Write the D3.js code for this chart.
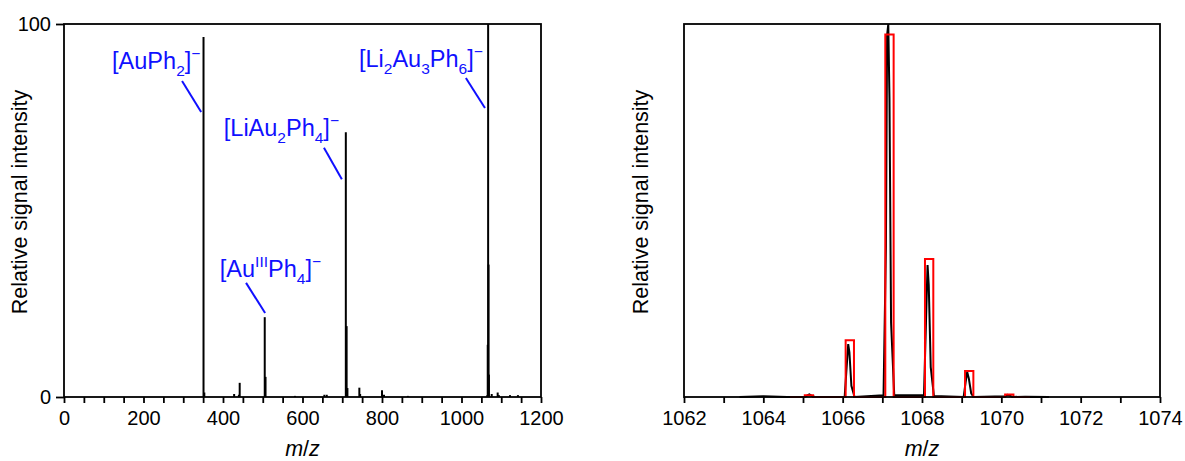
<!DOCTYPE html>
<html lang="en">
<head>
    <meta charset="UTF-8">
    <script src="https://cdn.jsdelivr.net/npm/d3@7"></script>
    <title>Mass spectrum and isotope pattern</title>
    <style>
        html, body {
            margin: 0px;
            padding: 0px;
            background-color: #ffffff;
            font-family: "Liberation Sans", Arial, sans-serif;
        }
        svg text { font-family: "Liberation Sans", Arial, sans-serif; }
    </style>
</head>
<body>
    <div id="chart"></div>
    <script>

        // overview spectrum, stick peaks (m/z, relative intensity)
        let stick_mz  = [351, 353, 428, 440, 442, 505, 507, 581, 655, 661, 709, 711, 713, 743, 745, 800, 805, 865, 1065, 1066, 1067, 1068, 1069, 1076, 1091, 1094, 1122, 1142];
        let stick_int = [96.5, 1.2, 0.8, 0.6, 3.8, 21.4, 5.4, 0.3, 0.6, 0.6, 71, 19, 2.4, 2.5, 0.8, 1.8, 0.6, 0.3, 0.5, 14, 100, 35.5, 6, 0.8, 1.2, 0.5, 0.5, 0.5];

        // labels: formula parts, text start (m/z, intensity), leader line
        let label_parts = [
            [['[AuPh', ''], ['2', 'sub'], [']', ''], ['\u2212', 'sup']],
            [['[LiAu', ''], ['2', 'sub'], ['Ph', ''], ['4', 'sub'], [']', ''], ['\u2212', 'sup']],
            [['[Au', ''], ['III', 'sup'], ['Ph', ''], ['4', 'sub'], [']', ''], ['\u2212', 'sup']],
            [['[Li', ''], ['2', 'sub'], ['Au', ''], ['3', 'sub'], ['Ph', ''], ['6', 'sub'], [']', ''], ['\u2212', 'sup']]
        ];
        let label_pos = [[121, 87.9], [402, 70.0], [392, 32.2], [742, 88.5]];
        let leader_from = [[297, 84.7], [654, 66.8], [458, 30.6], [1011, 85.5]];
        let leader_to = [[345, 76.4], [699, 58.4], [506, 22.5], [1059, 77.5]];

        // zoomed region: measured profile
        let profile_mz  = [1063.4, 1064.0, 1064.6, 1065.05, 1065.12, 1065.16, 1065.22, 1065.3, 1066.05, 1066.1, 1066.14, 1066.17, 1066.22, 1066.3,
                           1067.03, 1067.09, 1067.12, 1067.15, 1067.18, 1067.22, 1067.3, 1068.05, 1068.1, 1068.14, 1068.17, 1068.22, 1068.3,
                           1069.05, 1069.1, 1069.14, 1069.18, 1069.24, 1069.3, 1070.1, 1070.15, 1070.2, 1070.28, 1070.6, 1071.2];
        let profile_int = [0, 0.2, 0, 0, 0.5, 0.7, 0.3, 0, 0, 8, 14.2, 12, 3, 0,
                           0.5, 40, 97, 100, 80, 20, 0.5, 0.5, 20, 35.4, 30, 8, 0.3,
                           0, 4, 6.7, 5, 1, 0, 0.2, 0.6, 0.5, 0, 0.1, 0];

        // simulated isotope pattern (red boxes)
        let iso_mz  = [1065.15, 1066.18, 1067.18, 1068.18, 1069.19, 1070.2];
        let iso_int = [0.5, 15.2, 97.2, 37, 7, 0.7];
        let iso_width = 0.21;
        let iso_range = [1064.67, 1070.72];

        let width = 1185, height = 461;
        let svg = d3.select('#chart').append('svg').attr('width', width).attr('height', height);

        let plot_top = 24, plot_bottom = 397;
        let blue = '#1010ff';

        // ---------- left panel ----------
        let x1 = d3.scaleLinear().domain([0, 1200]).range([64, 541]);
        let y1 = d3.scaleLinear().domain([0, 100]).range([plot_bottom, plot_top]);

        let left_g = svg.append('g');

        left_g.selectAll('line.peak')
            .data(stick_mz)
            .join('line')
            .attr('class', 'peak')
            .attr('x1', d => x1(d)).attr('x2', d => x1(d))
            .attr('y1', y1(0))
            .attr('y2', (d, i) => y1(stick_int[i]))
            .attr('stroke', '#000')
            .attr('stroke-width', 2);

        let xa1 = d3.axisBottom(x1)
            .tickValues(d3.range(0, 1201, 50))
            .tickFormat(d => d % 200 === 0 ? d : '')
            .tickSize(6).tickPadding(8);
        let ya1 = d3.axisLeft(y1).tickValues([0, 100]).tickSize(8).tickPadding(5);

        function style_axis(g) {
            g.select('.domain').remove();
            g.selectAll('line').attr('stroke', '#000').attr('stroke-width', 1.8);
            g.selectAll('text').attr('font-size', 20).attr('fill', '#000');
        }

        left_g.append('g').attr('transform', `translate(0,${plot_bottom})`).call(xa1).call(style_axis);
        left_g.append('g').attr('transform', `translate(64,0)`).call(ya1).call(style_axis);

        left_g.append('rect')
            .attr('x', 64).attr('y', plot_top)
            .attr('width', 541 - 64).attr('height', plot_bottom - plot_top)
            .attr('fill', 'none').attr('stroke', '#000').attr('stroke-width', 1.8);

        // annotations
        label_parts.forEach((parts, i) => {
            let t = left_g.append('text')
                .attr('x', x1(label_pos[i][0]))
                .attr('y', y1(label_pos[i][1]))
                .attr('font-size', 23.5)
                .attr('fill', blue);
            let shift = 0;
            parts.forEach(p => {
                let target = p[1] === 'sub' ? 7 : p[1] === 'sup' ? -10 : 0;
                t.append('tspan')
                    .attr('dy', target - shift)
                    .attr('font-size', p[1] === '' ? 23.5 : 15.5)
                    .text(p[0]);
                shift = target;
            });
            left_g.append('line')
                .attr('x1', x1(leader_from[i][0])).attr('y1', y1(leader_from[i][1]))
                .attr('x2', x1(leader_to[i][0])).attr('y2', y1(leader_to[i][1]))
                .attr('stroke', blue).attr('stroke-width', 2);
        });

        left_g.append('text')
            .attr('transform', `translate(27,202) rotate(-90)`)
            .attr('text-anchor', 'middle')
            .attr('font-size', 21.5)
            .text('Relative signal intensity');

        let t1 = left_g.append('text')
            .attr('x', (64 + 541) / 2).attr('y', 456)
            .attr('text-anchor', 'middle')
            .attr('font-size', 21.5);
        t1.append('tspan').attr('font-style', 'italic').text('m');
        t1.append('tspan').text('/');
        t1.append('tspan').attr('font-style', 'italic').text('z');

        // ---------- right panel ----------
        let x2 = d3.scaleLinear().domain([1062, 1074]).range([684, 1160]);
        let y2 = d3.scaleLinear().domain([0, 100]).range([plot_bottom, plot_top]);

        let right_g = svg.append('g');

        let line = d3.line().x(d => x2(d[0])).y(d => y2(d[1]));

        right_g.append('path')
            .datum(profile_mz.map((m, i) => [m, profile_int[i]]))
            .attr('d', line)
            .attr('fill', 'none')
            .attr('stroke', '#000')
            .attr('stroke-width', 2);

        let iso_pts = [[iso_range[0], 0]];
        iso_mz.forEach((m, i) => {
            let lo = m - iso_width / 2, hi = m + iso_width / 2;
            iso_pts.push([lo, 0], [lo, iso_int[i]], [hi, iso_int[i]], [hi, 0]);
        });
        iso_pts.push([iso_range[1], 0]);

        right_g.append('path')
            .datum(iso_pts)
            .attr('d', line)
            .attr('fill', 'none')
            .attr('stroke', '#ff0000')
            .attr('stroke-width', 2);

        let xa2 = d3.axisBottom(x2)
            .tickValues(d3.range(1062, 1075, 1))
            .tickFormat(d => d % 2 === 0 ? d : '')
            .tickSize(6).tickPadding(8);

        right_g.append('g').attr('transform', `translate(0,${plot_bottom})`).call(xa2).call(style_axis);

        right_g.append('rect')
            .attr('x', 684).attr('y', plot_top)
            .attr('width', 1160 - 684).attr('height', plot_bottom - plot_top)
            .attr('fill', 'none').attr('stroke', '#000').attr('stroke-width', 1.8);

        right_g.append('text')
            .attr('transform', `translate(648,202) rotate(-90)`)
            .attr('text-anchor', 'middle')
            .attr('font-size', 21.5)
            .text('Relative signal intensity');

        let t2 = right_g.append('text')
            .attr('x', (684 + 1160) / 2).attr('y', 456)
            .attr('text-anchor', 'middle')
            .attr('font-size', 21.5);
        t2.append('tspan').attr('font-style', 'italic').text('m');
        t2.append('tspan').text('/');
        t2.append('tspan').attr('font-style', 'italic').text('z');

    </script>
</body>
</html>
